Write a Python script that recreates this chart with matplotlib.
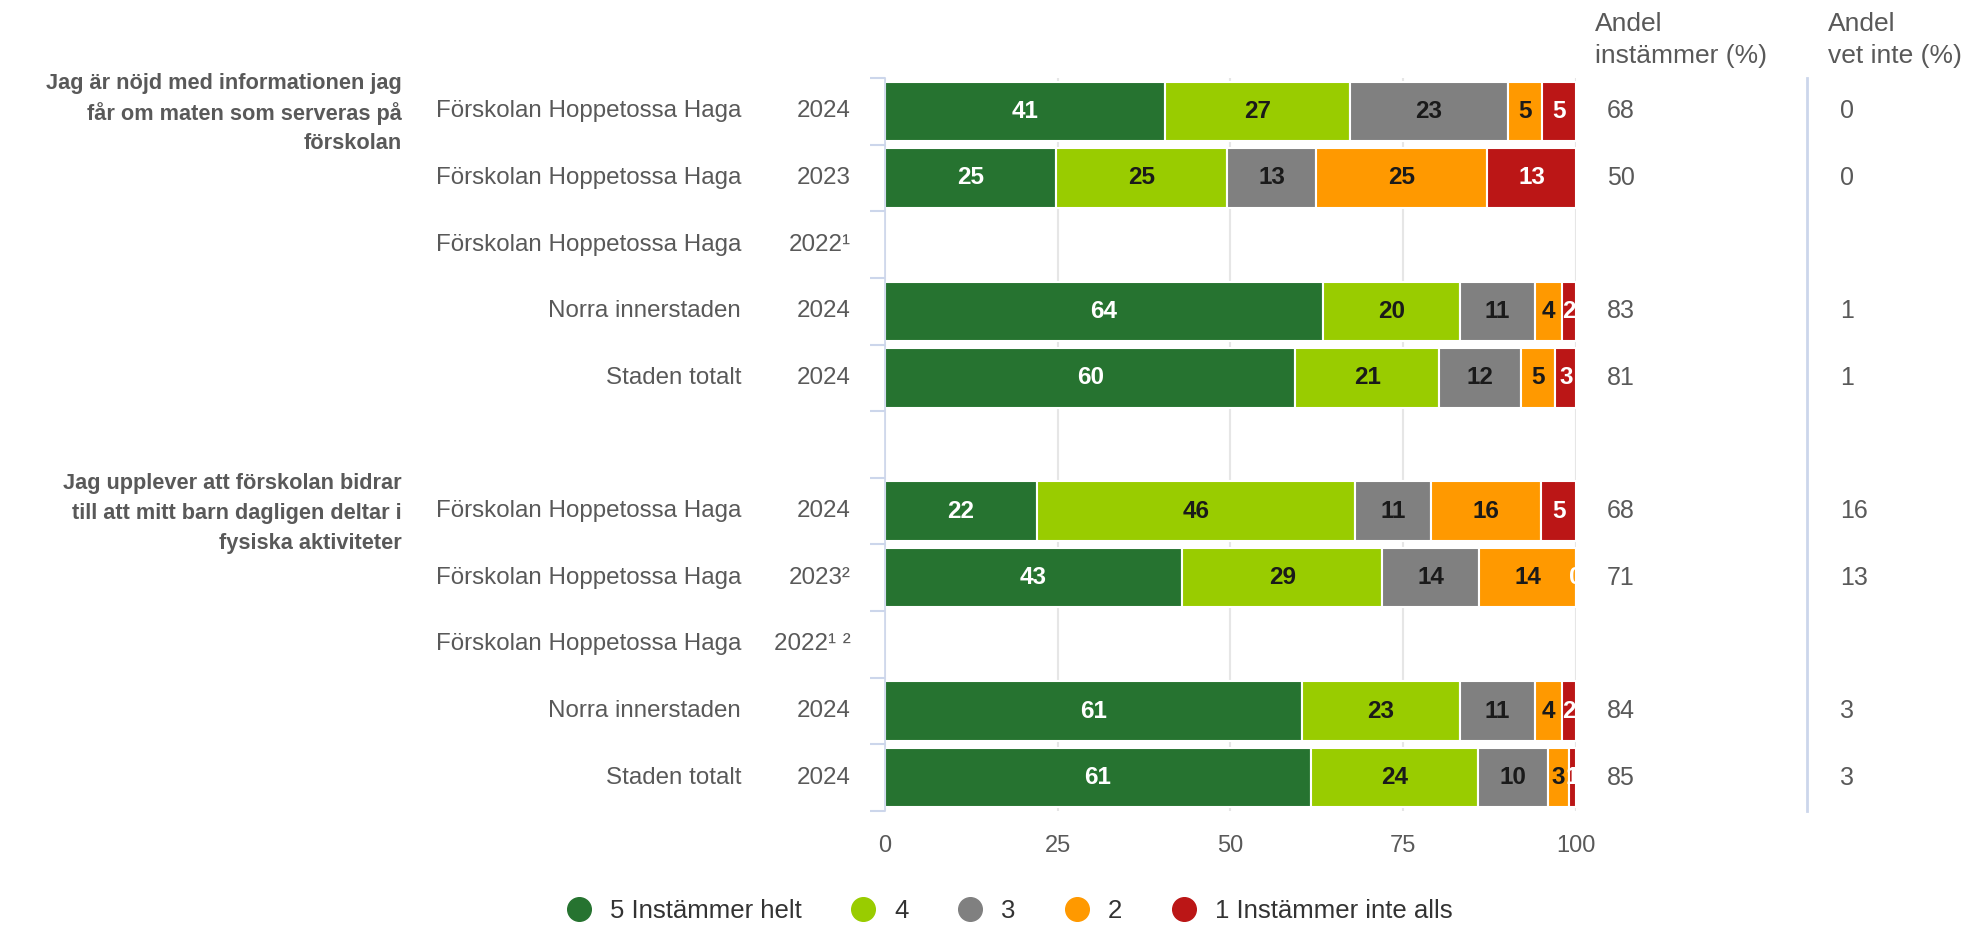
import matplotlib.pyplot as plt
import matplotlib.transforms as mtransforms
from matplotlib.lines import Line2D
import numpy as np

plt.rcParams['font.family'] = ['Liberation Sans', 'DejaVu Sans']

# questions (group titles), one entry per line
questions = [
    ["Jag är nöjd med informationen jag", "får om maten som serveras på", "förskolan"],
    ["Jag upplever att förskolan bidrar", "till att mitt barn dagligen deltar i", "fysiska aktiviteter"],
]
units = ["Förskolan Hoppetossa Haga", "Förskolan Hoppetossa Haga", "Förskolan Hoppetossa Haga",
         "Norra innerstaden", "Staden totalt"]
years_q1 = ["2024", "2023", "2022¹", "2024", "2024"]
years_q2 = ["2024", "2023²", "2022¹ ²", "2024", "2024"]

# answer shares, question 1 rows then question 2 rows (None = no data)
s5 = [41, 25, None, 64, 60, 22, 43, None, 61, 61]
s4 = [27, 25, None, 20, 21, 46, 29, None, 23, 24]
s3 = [23, 13, None, 11, 12, 11, 14, None, 11, 10]
s2 = [5, 25, None, 4, 5, 16, 14, None, 4, 3]
s1 = [5, 13, None, 2, 3, 5, 0, None, 2, 1]
andel_instammer = [68, 50, None, 83, 81, 68, 71, None, 84, 85]
andel_vet_inte = [0, 0, None, 1, 1, 16, 13, None, 3, 3]

series_names = ["5 Instämmer helt", "4", "3", "2", "1 Instämmer inte alls"]
colors = ["#267330", "#99cc00", "#808080", "#ff9900", "#bb1616"]
label_colors = ["white", "#1a1a1a", "#1a1a1a", "#1a1a1a", "white"]

text_gray = "#595959"

fig = plt.figure(figsize=(19.7, 9.27), dpi=100)
ax = fig.add_axes([0.4492, 1 - 811 / 927, 0.3508, (811 - 78) / 927])

# y positions: 5 rows, one empty slot, 5 rows
ypos = [0, 1, 2, 3, 4, 6, 7, 8, 9, 10]
series = [s5, s4, s3, s2, s1]

for i, y in enumerate(ypos):
    vals = [s[i] for s in series]
    if vals[0] is None:
        continue
    total = sum(vals)
    left = 0.0
    for k, v in enumerate(vals):
        w = v / total * 100
        ax.barh(y, w, left=left, height=0.89, color=colors[k],
                edgecolor="white", linewidth=1.5, zorder=2)
        ax.text(left + w / 2, y, str(v), ha="center", va="center",
                color=label_colors[k], fontsize=17.5, fontweight="bold",
                zorder=3, clip_on=True)
        left += w

ax.set_xlim(0, 100)
ax.set_ylim(10.5, -0.5)
ax.set_xticks([0, 25, 50, 75, 100])
ax.tick_params(axis="x", length=0, pad=17, labelsize=17, labelcolor=text_gray)
ax.set_yticks([])
ax.set_yticks(np.arange(-0.5, 11, 1), minor=True)
ax.tick_params(axis="y", which="minor", length=11, width=1.5, color="#ccd6eb")
ax.grid(axis="x", color="#e6e6e6", linewidth=1.5, zorder=0)
ax.set_axisbelow(True)
for side in ["top", "right", "bottom"]:
    ax.spines[side].set_visible(False)
ax.spines["left"].set_color("#ccd6eb")
ax.spines["left"].set_linewidth(1.2)

# text columns, x in figure fraction, y in data
tr = mtransforms.blended_transform_factory(fig.transFigure, ax.transData)
years = years_q1 + years_q2
for i, y in enumerate(ypos):
    ax.text(741 / 1970, y, units[i % 5], transform=tr, ha="right", va="center",
            fontsize=17.4, color=text_gray)
    ax.text(851 / 1970, y, years[i], transform=tr, ha="right", va="center",
            fontsize=17.4, color=text_gray)
    if andel_instammer[i] is not None:
        ax.text(1607 / 1970, y, str(andel_instammer[i]), transform=tr, ha="left",
                va="center", fontsize=18, color=text_gray)
        ax.text(1840 / 1970, y, str(andel_vet_inte[i]), transform=tr, ha="left",
                va="center", fontsize=18, color=text_gray)

# group titles, one line at a time so the spacing stays even
for lines, y in zip(questions, [0, 6]):
    for j, line in enumerate(lines):
        ax.text(402 / 1970, y + (j - 1) * 0.45, line, transform=tr, ha="right",
                va="center_baseline", fontsize=15.7, fontweight="bold", color=text_gray)

fig.text(1595 / 1970, 1 - 12 / 927, "Andel\ninstämmer (%)", ha="left", va="top",
         fontsize=19, color=text_gray, linespacing=1.42)
fig.text(1828 / 1970, 1 - 12 / 927, "Andel\nvet inte (%)", ha="left", va="top",
         fontsize=19, color=text_gray, linespacing=1.42)

# divider between the two value columns
ax.plot([1807 / 1970, 1807 / 1970], [-0.5, 10.5], transform=tr, color="#ccd6eb",
        linewidth=2, clip_on=False)

handles = [Line2D([], [], marker="o", linestyle="", markersize=17,
                  markerfacecolor=c, markeredgecolor=c) for c in colors]
fig.legend(handles, series_names, loc="center", bbox_to_anchor=(0.509, 0.017),
           ncol=5, frameon=False, fontsize=18.5, labelcolor="#333333",
           handletextpad=0.2, columnspacing=1.4)

fig.savefig("out.png", dpi=100)
